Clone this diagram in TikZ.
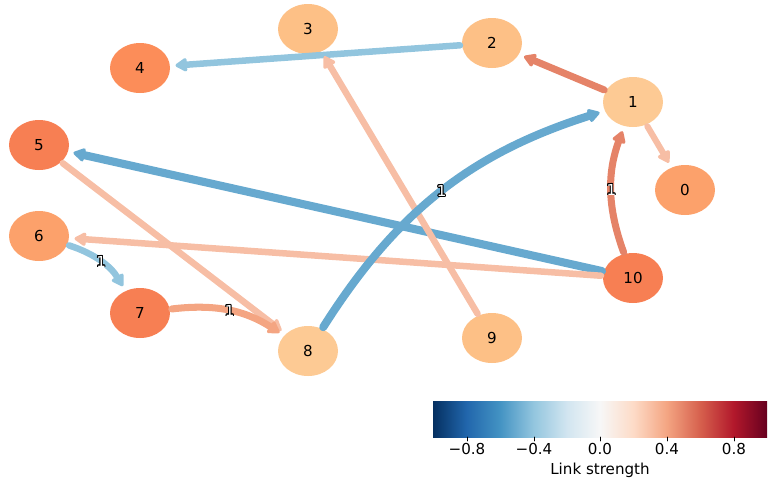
\documentclass[tikz,border=0pt]{standalone}
\usepackage{fontspec}
\setmainfont{DejaVu Sans}
\usepackage{contour}
\contourlength{0.5pt}
\usetikzlibrary{shapes.geometric,arrows.meta}
\tikzstyle{every path}=[line cap=round, line join=round]
\tikzstyle{vertex}=[ellipse, minimum width=60*0.02cm, minimum height=50*0.02cm, inner sep=0pt, font=\fontsize{8.6}{10}\selectfont]
\tikzstyle{link}=[line width=4pt, -{Triangle[round, length=7.5pt, width=8.5pt]}, shorten <=1pt, shorten >=3pt]
\tikzstyle{weight}=[font=\fontsize{8.6}{10}\selectfont, inner sep=0pt]
\tikzstyle{tick}=[font=\fontsize{8.6}{10}\selectfont, below=0pt, inner sep=1pt]
\definecolor{nodelight}{RGB}{253,202,148}
\definecolor{nodepeach}{RGB}{253,192,134}
\definecolor{nodeorange}{RGB}{252,161,107}
\definecolor{nodedeep}{RGB}{252,141,89}
\definecolor{nodered}{RGB}{247,127,83}
\definecolor{linkblue}{RGB}{103,169,207}
\definecolor{linksky}{RGB}{146,197,222}
\definecolor{linkpink}{RGB}{247,190,165}
\definecolor{linksalmon}{RGB}{244,165,130}
\definecolor{linkcoral}{RGB}{229,131,104}
\pgfdeclarehorizontalshading{rdbu}{100bp}{rgb(0bp)=(0.020,0.188,0.380);
  rgb(25bp)=(0.020,0.188,0.380); rgb(30bp)=(0.129,0.400,0.675);
  rgb(35bp)=(0.263,0.576,0.765); rgb(40bp)=(0.573,0.773,0.871);
  rgb(45bp)=(0.820,0.898,0.941); rgb(50bp)=(0.969,0.969,0.969);
  rgb(55bp)=(0.992,0.859,0.780); rgb(60bp)=(0.957,0.647,0.510);
  rgb(65bp)=(0.839,0.376,0.302); rgb(70bp)=(0.698,0.094,0.169);
  rgb(75bp)=(0.404,0,0.122); rgb(100bp)=(0.404,0,0.122)}
\newcommand{\wlabel}[1]{\contour{black}{\textcolor{white}{#1}}}

\begin{document}
\begin{tikzpicture}[x=0.02cm, y=-0.02cm]
            \useasboundingbox (0,0) rectangle (774,481);
            \node[vertex, fill=nodeorange] (n0) at (685,190) {0};
            \node[vertex, fill=nodelight] (n1) at (633,102) {1};
            \node[vertex, fill=nodepeach] (n2) at (492,43) {2};
            \node[vertex, fill=nodepeach] (n3) at (308,29) {3};
            \node[vertex, fill=nodedeep] (n4) at (140,68) {4};
            \node[vertex, fill=nodered] (n5) at (39,145) {5};
            \node[vertex, fill=nodeorange] (n6) at (39,236) {6};
            \node[vertex, fill=nodered] (n7) at (140,313) {7};
            \node[vertex, fill=nodelight] (n8) at (308,351) {8};
            \node[vertex, fill=nodepeach] (n9) at (492,338) {9};
            \node[vertex, fill=nodered] (n10) at (633,278) {10};

            \draw[link, linksky, line width=3.7pt] (n2) -- (n4);
            \draw[link, linkcoral] (n1) -- (n2);
            \draw[link, linkpink, line width=3.5pt] (n1) -- (n0);
            \draw[link, linkblue, line width=4.6pt] (n10) -- (n5);
            \draw[link, linkpink, line width=3.7pt] (n10) -- (n6);
            \draw[link, linkpink, line width=3.7pt] (n9) -- (n3);
            \draw[link, linkpink, line width=3.7pt] (n5) -- (n8);
            \draw[link, linkblue, line width=4.6pt] (n8) to[bend left=20]
                node[weight]{\wlabel{1}} (n1);
            \draw[link, linkcoral] (n10) to[bend left=20]
                node[weight]{\wlabel{1}} (n1);
            \draw[link, linksky, line width=3.7pt] (n6) to[bend left=20]
                node[weight]{\wlabel{1}} (n7);
            \draw[link, linksalmon] (n7) to[bend left=20]
                node[weight]{\wlabel{1}} (n8);

            \shade[shading=rdbu] (433,401) rectangle (767,437);
            \foreach \v/\px in {{−0.8}/467, {−0.4}/534, 0.0/600, 0.4/667, 0.8/734}
                \draw[line width=0.5pt] (\px,437) -- (\px,441) node[tick]{\v};
            \node[font=\fontsize{8.6}{10}\selectfont] (cbar) at (600,470) {Link strength};
        \end{tikzpicture}
\end{document}
